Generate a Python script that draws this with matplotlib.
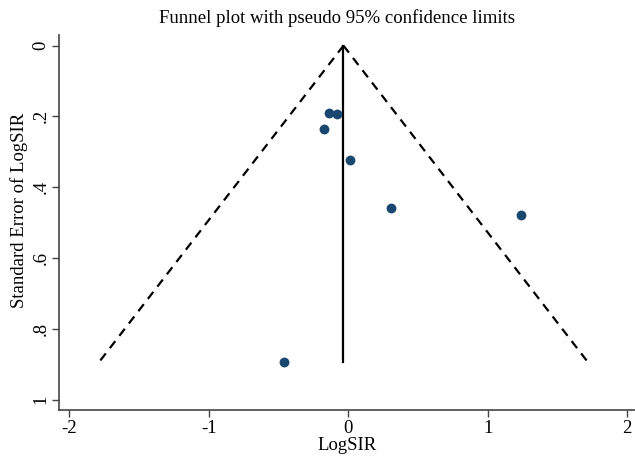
import numpy as np
import matplotlib
matplotlib.use("Agg")
import matplotlib.pyplot as plt

plt.rcParams['font.family'] = ['Liberation Serif', 'DejaVu Serif']

# study estimates (log SIR) and their standard errors
log_sir = [-0.461, -0.136, -0.083, -0.174, 0.011, 0.307, 1.240]
se_log_sir = [0.894, 0.190, 0.192, 0.235, 0.323, 0.460, 0.480]
pooled = -0.034
xticks = [-2, -1, 0, 1, 2]
yticks = [0, 0.2, 0.4, 0.6, 0.8, 1]
ytick_labels = ["0", ".2", ".4", ".6", ".8", "1"]

fig = plt.figure(figsize=(6.35, 4.57), dpi=100)
ax = fig.add_axes([0.0934, 0.1018, 0.9066, 0.8216])

# pseudo 95% limits
se_max = max(se_log_sir)
se_line = np.array([0, se_max])
ax.plot(pooled - 1.96 * se_line, se_line, color="black", lw=1.6, ls=(0, (4, 3)))
ax.plot(pooled + 1.96 * se_line, se_line, color="black", lw=1.6, ls=(0, (4, 3)))
ax.plot([pooled, pooled], [0, se_max], color="black", lw=1.6)

ax.scatter(log_sir, se_log_sir, s=50, color="#1a476f", zorder=3, linewidths=0)

ax.set_xlim(-2.072, 2.057)
ax.set_ylim(1.031, -0.030)
ax.set_xticks(xticks)
ax.set_xticklabels([str(t) for t in xticks])
ax.set_yticks(yticks)
ax.set_yticklabels(ytick_labels, rotation=90, va="center")

for s in ["top", "right"]:
    ax.spines[s].set_visible(False)
for s in ["left", "bottom"]:
    ax.spines[s].set_color("#444444")
    ax.spines[s].set_linewidth(1.2)
ax.tick_params(length=5, width=1, color="#444444", labelsize=13.5, pad=2)

ax.set_xlabel("LogSIR", fontsize=13.5, labelpad=0)
ax.set_ylabel("Standard Error of LogSIR", fontsize=13.5)
ax.yaxis.set_label_coords(-0.055, 0.534)
fig.text(337 / 635, 1 - 18 / 457, "Funnel plot with pseudo 95% confidence limits",
         ha="center", va="center", fontsize=13.5)

fig.savefig("out.png", dpi=100)
